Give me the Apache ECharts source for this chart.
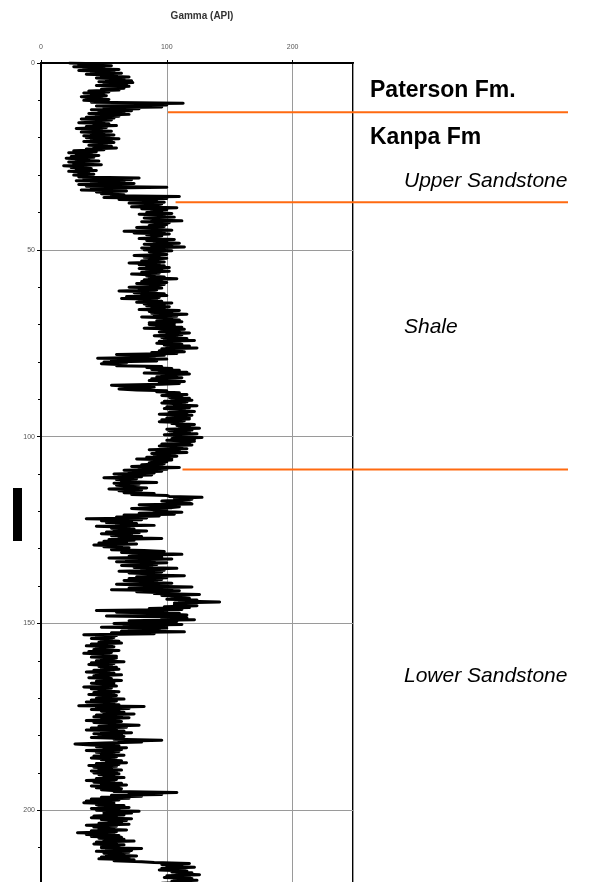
<!DOCTYPE html>
<html>
<head>
<meta charset="utf-8">
<script src="https://cdn.jsdelivr.net/npm/echarts@6/dist/echarts.min.js"></script>
<style>
html,body{margin:0;padding:0;background:#fff;overflow:hidden;}
#chart{width:595px;height:890px;}
</style>
</head>
<body>
<div id="chart"></div>
<script>
// Sampling: one gamma reading every 0.25 m, starting at 0 m
const depthStart = 0;
const depthStep = 0.25;
// Gamma (API) readings, 20 per row (5 m per row)
const gammaValues = [
  23, 48, 30, 56, 26, 50, 34, 62, 30, 58, 40, 64, 36, 60, 48, 70, 44, 66, 52, 72,
  46, 73, 50, 68, 44, 70, 56, 66, 48, 62, 38, 54, 34, 50, 40, 52, 32, 48, 36, 54,
  34, 52, 40, 113, 60, 100, 44, 96, 50, 78, 40, 72, 46, 66, 38, 70, 44, 62, 36, 58,
  32, 56, 40, 50, 30, 54, 42, 60, 36, 52, 28, 48, 38, 56, 32, 50, 40, 58, 34, 54,
  36, 62, 40, 56, 34, 58, 44, 52, 38, 56, 42, 60, 36, 50, 26, 44, 22, 40, 28, 46,
  24, 42, 20, 38, 28, 46, 22, 36, 26, 48, 18, 34, 24, 40, 28, 44, 22, 38, 30, 42,
  26, 40, 30, 78, 34, 72, 28, 66, 40, 74, 30, 62, 36, 100, 40, 64, 32, 68, 44, 60,
  48, 66, 56, 110, 50, 100, 62, 92, 76, 98, 70, 96, 84, 94, 72, 108, 80, 100, 88, 96,
  84, 104, 78, 98, 90, 106, 82, 96, 88, 112, 80, 102, 92, 100, 86, 98, 76, 94, 90, 104,
  66, 98, 74, 102, 84, 96, 88, 92, 78, 106, 84, 100, 90, 110, 82, 104, 88, 114, 80, 96,
  82, 104, 86, 96, 90, 100, 74, 94, 82, 100, 86, 92, 80, 98, 70, 94, 78, 98, 84, 102,
  78, 96, 84, 102, 80, 94, 72, 90, 84, 98, 86, 108, 82, 96, 80, 100, 76, 98, 84, 94,
  70, 96, 78, 92, 62, 90, 74, 98, 80, 100, 68, 94, 64, 92, 78, 96, 76, 104, 82, 98,
  84, 102, 88, 98, 78, 110, 86, 104, 88, 116, 90, 108, 80, 104, 94, 110, 92, 112, 86, 106,
  86, 106, 92, 112, 82, 114, 96, 110, 94, 118, 100, 112, 90, 108, 96, 116, 98, 122, 94, 110,
  92, 112, 98, 118, 100, 124, 96, 112, 94, 114, 88, 108, 60, 98, 72, 90, 45, 100, 56, 92,
  50, 68, 48, 66, 60, 96, 84, 104, 88, 110, 94, 116, 82, 118, 96, 108, 92, 112, 88, 104,
  86, 114, 94, 110, 96, 56, 70, 90, 84, 62, 76, 100, 92, 110, 100, 116, 96, 112, 102, 118,
  104, 120, 98, 116, 96, 114, 106, 124, 100, 118, 98, 114, 108, 122, 102, 116, 94, 120, 106, 118,
  100, 118, 96, 114, 94, 112, 104, 122, 108, 118, 110, 126, 100, 120, 102, 118, 106, 124, 98, 116,
  106, 128, 104, 122, 100, 122, 110, 118, 96, 120, 94, 112, 100, 116, 86, 110, 92, 116, 88, 106,
  90, 108, 84, 104, 76, 104, 88, 100, 86, 98, 80, 96, 72, 110, 78, 100, 66, 96, 70, 90,
  58, 88, 62, 80, 50, 76, 60, 74, 64, 92, 58, 78, 60, 72, 66, 84, 54, 80, 62, 76,
  66, 90, 72, 100, 102, 128, 106, 120, 110, 96, 104, 118, 120, 78, 96, 110, 104, 72, 88, 100,
  90, 112, 78, 106, 66, 94, 60, 84, 36, 80, 48, 72, 52, 76, 60, 90, 44, 70, 56, 74,
  58, 84, 52, 78, 48, 72, 56, 80, 62, 96, 54, 74, 50, 68, 46, 76, 42, 64, 50, 70,
  70, 56, 82, 98, 64, 92, 112, 80, 70, 96, 54, 104, 68, 90, 60, 100, 76, 92, 64, 88,
  74, 108, 80, 98, 62, 96, 70, 90, 84, 114, 76, 100, 70, 96, 66, 92, 78, 104, 60, 90,
  80, 120, 70, 104, 56, 110, 76, 98, 90, 126, 96, 112, 104, 118, 100, 124, 110, 142, 106, 120,
  106, 124, 98, 118, 86, 112, 44, 100, 60, 110, 100, 116, 52, 104, 116, 96, 122, 70, 108, 90,
  58, 112, 66, 100, 48, 100, 70, 94, 64, 114, 56, 90, 34, 60, 44, 58, 40, 56, 48, 62,
  46, 64, 40, 56, 36, 58, 44, 52, 42, 62, 38, 56, 34, 54, 46, 60, 40, 60, 48, 58,
  44, 66, 40, 58, 38, 56, 46, 60, 48, 62, 42, 54, 36, 58, 44, 64, 42, 54, 38, 56,
  50, 64, 44, 58, 40, 58, 48, 60, 34, 56, 40, 52, 46, 62, 42, 58, 38, 60, 46, 56,
  44, 66, 40, 60, 36, 58, 46, 62, 30, 82, 44, 70, 40, 62, 48, 66, 50, 74, 44, 64,
  42, 70, 48, 62, 36, 64, 42, 58, 54, 78, 46, 68, 40, 60, 36, 66, 48, 72, 42, 64,
  46, 66, 40, 60, 58, 96, 62, 80, 50, 27, 40, 62, 44, 68, 50, 64, 36, 62, 44, 58,
  48, 66, 42, 60, 40, 58, 48, 64, 52, 68, 44, 62, 38, 60, 42, 56, 46, 64, 40, 60,
  42, 62, 46, 58, 50, 66, 44, 60, 36, 58, 42, 64, 48, 68, 40, 62, 44, 64, 48, 60,
  58, 108, 70, 96, 56, 80, 48, 70, 40, 62, 36, 58, 34, 58, 44, 66, 46, 70, 40, 62,
  44, 78, 50, 72, 50, 66, 42, 60, 40, 72, 48, 68, 54, 64, 46, 70, 36, 60, 42, 58,
  46, 68, 40, 60, 29, 58, 36, 62, 40, 64, 46, 66, 50, 74, 44, 60, 42, 66, 48, 62,
  48, 80, 52, 72, 44, 70, 50, 66, 52, 76, 48, 70, 46, 74, 58, 80, 90, 118, 96, 112,
  100, 122, 96, 114, 94, 116, 104, 120, 108, 126, 100, 118, 98, 120, 106, 124, 104, 118, 96, 114
];
// Formation boundaries: depth (m), gamma value where each line starts, value where they end
const boundaryDepths = [13.2, 37.3, 108.8];
const boundaryStarts = [101, 107, 112.5];
const boundaryEnd = 419;
// Axis tick labels
const xTickLabels = ['0', '100', '200'];
const depthTickLabels = ['0', '50', '100', '150', '200'];
// Annotation texts
const formationNames = ['Paterson Fm.', 'Kanpa Fm'];
const memberNames = ['Upper Sandstone', 'Shale', 'Lower Sandstone'];

const gammaData = gammaValues.map((v, i) => [v, depthStart + i * depthStep]);

const boundarySeries = boundaryDepths.map((d, i) => ({
  type: 'line',
  xAxisIndex: 1,
  yAxisIndex: 1,
  data: [[boundaryStarts[i], d], [boundaryEnd, d]],
  symbol: 'none',
  silent: true,
  z: 5,
  lineStyle: { color: '#FF6A10', width: 2 }
}));

const chart = echarts.init(document.getElementById('chart'), null, { renderer: 'canvas' });
chart.setOption({
  animation: false,
  backgroundColor: '#fff',
  title: {
    text: 'Gamma (API)',
    left: 197,
    top: 6,
    textAlign: 'center',
    textStyle: { fontFamily: 'Liberation Sans, Arial', fontSize: 10, fontWeight: 'bold', color: '#333' }
  },
  grid: [
    { left: 41, right: 242, top: 63, bottom: 5, show: true, borderColor: '#000', borderWidth: 2, containLabel: false },
    { left: 41, right: 27, top: 63, bottom: 5, show: false, containLabel: false }
  ],
  xAxis: [{
    type: 'value', position: 'top', min: 0, max: 248, interval: 100, gridIndex: 0,
    axisLine: { show: true, lineStyle: { color: '#000', width: 2 } },
    axisTick: { show: true, length: 3, lineStyle: { color: '#000', width: 1 } },
    axisLabel: {
      fontSize: 7, color: '#555', margin: 12, fontFamily: 'Liberation Sans, Arial',
      showMaxLabel: false,
      formatter: v => (xTickLabels.indexOf(String(v)) >= 0 ? String(v) : '')
    },
    splitLine: { show: true, lineStyle: { color: '#9a9a9a', width: 1 } }
  }, {
    type: 'value', min: 0, max: 419, gridIndex: 1, show: false
  }],
  yAxis: [{
    type: 'value', inverse: true, min: 0, max: 220, interval: 50, gridIndex: 0,
    axisLine: { show: true, lineStyle: { color: '#000', width: 2 } },
    axisTick: { show: true, length: 4, lineStyle: { color: '#000', width: 1 } },
    minorTick: { show: true, splitNumber: 5, length: 3, lineStyle: { color: '#000', width: 1 } },
    axisLabel: {
      fontSize: 7, color: '#555', margin: 6, fontFamily: 'Liberation Sans, Arial',
      formatter: v => (depthTickLabels.indexOf(String(v)) >= 0 ? String(v) : '')
    },
    splitLine: { show: true, lineStyle: { color: '#9a9a9a', width: 1 } }
  }, {
    type: 'value', inverse: true, min: 0, max: 220, gridIndex: 1, show: false
  }],
  series: [
    {
      type: 'line',
      data: gammaData,
      symbol: 'none',
      silent: true,
      z: 3,
      lineStyle: { color: '#000', width: 3, join: 'round', cap: 'round' }
    }
  ].concat(boundarySeries),
  graphic: [
    { type: 'rect', shape: { x: 13, y: 488, width: 9, height: 53 }, style: { fill: '#000' } },
    { type: 'text', x: 370, y: 91, style: { text: formationNames[0], font: 'bold 23px "Liberation Sans", Arial', fill: '#000', verticalAlign: 'middle' } },
    { type: 'text', x: 370, y: 138, style: { text: formationNames[1], font: 'bold 23px "Liberation Sans", Arial', fill: '#000', verticalAlign: 'middle' } },
    { type: 'text', x: 404, y: 181, style: { text: memberNames[0], font: 'italic 21px "Liberation Sans", Arial', fill: '#000', verticalAlign: 'middle' } },
    { type: 'text', x: 404, y: 327, style: { text: memberNames[1], font: 'italic 21px "Liberation Sans", Arial', fill: '#000', verticalAlign: 'middle' } },
    { type: 'text', x: 404, y: 676, style: { text: memberNames[2], font: 'italic 21px "Liberation Sans", Arial', fill: '#000', verticalAlign: 'middle' } }
  ]
});
</script>
</body>
</html>
